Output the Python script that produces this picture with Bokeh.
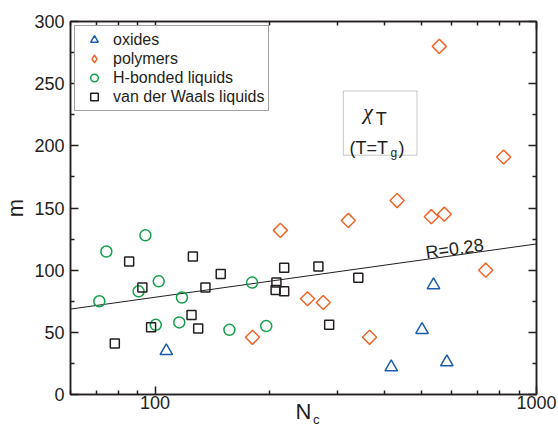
import math
from bokeh.plotting import figure
from bokeh.models import (Range1d, FixedTicker, LogAxis, LinearAxis,
                          Label, BoxAnnotation, Legend, LegendItem, PrintfTickFormatter,
                          CustomJSTickFormatter)
from bokeh.embed import file_html
from bokeh.resources import INLINE

# ---- data ----
oxides_n = [107, 416, 501, 537, 582]
oxides_m = [35, 22, 52, 88, 26]

polymers_n = [180, 213, 251, 276, 321, 365, 431, 530, 556, 573, 736, 820]
polymers_m = [46, 132, 77, 74, 140, 46, 156, 143, 280, 145, 100, 191]

hbond_n = [71.4, 74.5, 90.5, 94.3, 100.4, 102.2, 115.7, 117.6, 156.6, 179.6, 195.6]
hbond_m = [75, 115, 83, 128, 56, 91, 58, 78, 52, 90, 55]

vdw_n = [78.4, 85.5, 92.6, 97.6, 124.6, 125.6, 129.7, 135.5, 148.6, 207, 208, 218, 218, 268, 286, 341]
vdw_m = [41, 107, 86, 54, 64, 111, 53, 86, 97, 84, 90, 83, 102, 103, 56, 94]

fit_n = [60, 1000]
fit_m = [68.7, 121.1]

x_major = [100, 1000]
x_minor = [60, 70, 80, 90, 200, 300, 400, 500, 600, 700, 800, 900]
y_major = [0, 50, 100, 150, 200, 250, 300]
y_minor = [25, 75, 125, 175, 225, 275]

series_labels = ["oxides", "polymers", "H-bonded liquids", "van der Waals liquids"]

BLUE = "#1c5daa"
ORANGE = "#f2652a"
GREEN = "#12a14b"
BLACK = "#231f20"
FONT = "Liberation Sans"

p = figure(width=557, height=429, x_axis_type="log",
           x_range=Range1d(60, 1000), y_range=Range1d(0, 300),
           output_backend="svg", toolbar_location=None,
           min_border_left=69, min_border_right=21, min_border_top=21, min_border_bottom=34)
p.grid.visible = False
p.outline_line_color = BLACK
p.outline_line_width = 1.5
p.background_fill_color = "white"
p.border_fill_color = "white"


def style_axis(ax, labels=True):
    ax.axis_line_color = BLACK
    ax.axis_line_width = 1.5
    ax.major_tick_line_color = BLACK
    ax.minor_tick_line_color = BLACK
    ax.major_tick_line_width = 1.5
    ax.minor_tick_line_width = 1.5
    ax.major_tick_in = 8
    ax.major_tick_out = 0
    ax.minor_tick_in = 4
    ax.minor_tick_out = 0
    ax.major_label_text_font = FONT
    ax.major_label_text_font_size = "18px"
    ax.major_label_text_color = BLACK
    ax.axis_label_text_font = FONT
    ax.axis_label_text_font_style = "normal"
    ax.axis_label_text_color = BLACK
    if not labels:
        ax.formatter = CustomJSTickFormatter(code="return ''")
        ax.major_label_standoff = 0


xb = p.xaxis[0]
xb.ticker = FixedTicker(ticks=x_major, minor_ticks=x_minor)
xb.formatter = PrintfTickFormatter(format="%d")
style_axis(xb)
xb.major_label_standoff = 1
# subscript "c" of N_c (the letter N sits on a bare axis further out)
xb.axis_label = "\u00a0" * 7 + "c"
xb.axis_label_text_font_size = "13px"
xb.axis_label_standoff = 0

xn = LogAxis(ticker=FixedTicker(ticks=[]))
style_axis(xn, labels=False)
xn.axis_line_color = None
xn.axis_label = "N"
xn.axis_label_text_font_size = "22px"
xn.axis_label_standoff = -31
p.add_layout(xn, "below")

yl = p.yaxis[0]
yl.ticker = FixedTicker(ticks=y_major, minor_ticks=y_minor)
style_axis(yl)
yl.major_label_standoff = 6
yl.axis_label = "m"
yl.axis_label_text_font_size = "22px"
yl.axis_label_standoff = 3

# mirrored axes (ticks only) on top and right
xt = LogAxis(ticker=FixedTicker(ticks=x_major, minor_ticks=x_minor))
style_axis(xt, labels=False)
p.add_layout(xt, "above")

yr = LinearAxis(ticker=FixedTicker(ticks=y_major, minor_ticks=y_minor))
style_axis(yr, labels=False)
p.add_layout(yr, "right")

# fit line
p.line(fit_n, fit_m, line_color=BLACK, line_width=1)

r_ox = p.scatter(oxides_n, oxides_m, marker="triangle", size=12.5, fill_color=None,
                 line_color=BLUE, line_width=1.5)
r_po = p.scatter(polymers_n, polymers_m, marker="square", size=10, angle=math.pi / 4,
                 fill_color=None, line_color=ORANGE, line_width=1.5)
r_hb = p.scatter(hbond_n, hbond_m, marker="circle", size=11, fill_color=None,
                 line_color=GREEN, line_width=1.5)
r_vw = p.scatter(vdw_n, vdw_m, marker="square", size=9, fill_color=None,
                 line_color=BLACK, line_width=1.5)
# legend swatch for polymers (legend markers are never rotated); no visible point
r_po_key = p.scatter([float("nan")], [float("nan")], marker="diamond", size=10,
                     fill_color=None, line_color=ORANGE, line_width=1.5)

legend = Legend(items=[LegendItem(label=series_labels[0], renderers=[r_ox]),
                       LegendItem(label=series_labels[1], renderers=[r_po_key]),
                       LegendItem(label=series_labels[2], renderers=[r_hb]),
                       LegendItem(label=series_labels[3], renderers=[r_vw])],
                location="top_left", margin=4, padding=4, spacing=0,
                label_height=16, glyph_height=19, glyph_width=30, label_standoff=4,
                label_text_font=FONT, label_text_font_size="16px", label_text_color=BLACK,
                border_line_color="#444444", border_line_width=1,
                background_fill_color="white", background_fill_alpha=1)
p.add_layout(legend)

# annotation box chi_T
p.add_layout(BoxAnnotation(left=311.6, right=486, bottom=192.5, top=244.1,
                           fill_color=None, fill_alpha=0, line_color="#444444", line_width=1))


def lab(x, y, text, size, align="left", baseline="alphabetic", angle=0,
        font=FONT, style="normal"):
    p.add_layout(Label(x=x, y=y, text=text, text_font=font, text_font_size=size,
                       text_font_style=style, text_color=BLACK, text_align=align,
                       text_baseline=baseline, angle=angle))


lab(351.4, 227.8, "χ", "22px", font="Liberation Serif", style="italic")
lab(379, 221.9, "T", "18px")
lab(323.6, 197.9, "(T=T", "18px")
lab(414, 194.1, "g", "12px")
lab(434.6, 197.9, ")", "18px")

# fit annotation
lab(512, 113.9, "R=0.28", "18px", angle=0.14)

open("out.html", "w").write(file_html(p, INLINE))
